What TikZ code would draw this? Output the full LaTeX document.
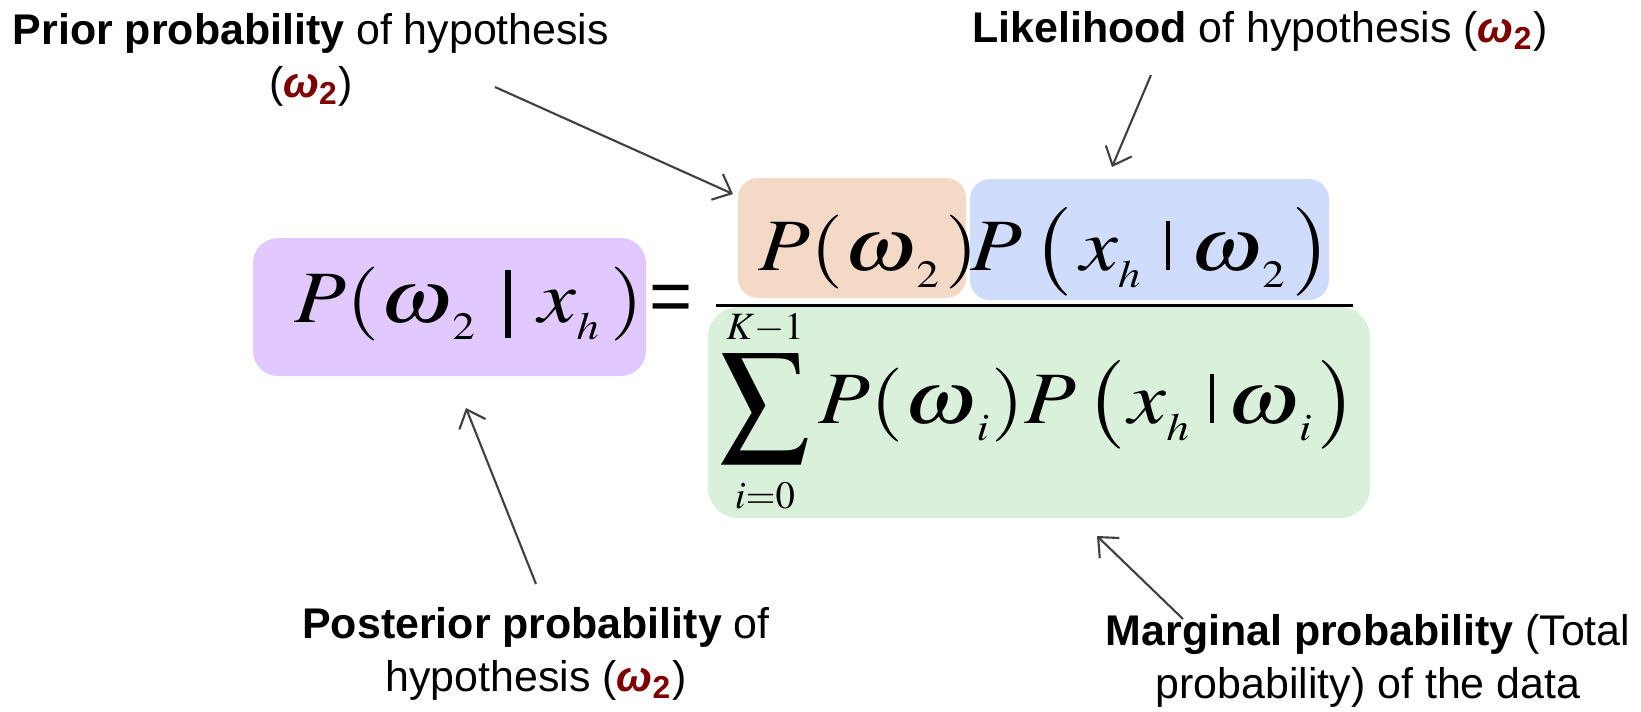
\documentclass[tikz,border=0pt]{standalone}
\usepackage{mathptmx}
\usepackage{graphicx}
\usepackage[no-math]{fontspec}
\newfontfamily\labfont{Liberation Sans}
\usetikzlibrary{arrows.meta,fit}
\DeclareMathSizes{21}{21}{11}{9}
\definecolor{cpurple}{RGB}{225,200,254}
\definecolor{cpeach}{RGB}{245,217,199}
\definecolor{cblue}{RGB}{207,220,251}
\definecolor{cgreen}{RGB}{217,240,219}
\definecolor{dred}{RGB}{128,0,0}
\definecolor{arrgray}{RGB}{64,64,64}
\newcommand\omtwo{\textcolor{dred}{\textbf{\textit{ω}}\textsubscript{\textbf{2}}}}
\newcommand\om{\mathord{\scalebox{1.12}[1]{$\omega$}}}
\newcommand\lsub[1]{_{\raisebox{-1.9pt}{$\scriptstyle #1$}}}
\newcommand\bigbar{\mkern1mu\rule[-4.6pt]{1.3pt}{19.4pt}\mkern1mu}
\newcommand\smbar{\mkern1mu\rule{1.1pt}{14pt}\mkern1mu}
\newcommand\hstretch[1]{\scalebox{1.15}[1]{#1}}
\begin{document}
\begin{tikzpicture}[x=0.01cm,y=-0.01cm,
  box/.style={draw=none, inner sep=0pt, rounded corners=#1},
  box/.default=0.2cm,
  mth/.style={inner sep=0pt, anchor=base west, font=\fontsize{21}{25}\selectfont},
  lab/.style={inner sep=0pt, align=center, font=\labfont\fontsize{12.2}{15}\selectfont},
  arr/.style={draw=arrgray, line width=0.6pt, -{Straight Barb[length=4.5pt,width=8pt]}}]
\useasboundingbox (0,0) rectangle (1641,711);

% coloured boxes
\node[box=0.25cm, fill=cpurple, fit={(253,238) (646,376)}] (bpost) {};
\node[box, fill=cpeach, fit={(738,178) (966,298)}] (bprior) {};
\node[box, fill=cblue, fit={(970,179) (1329,300)}] (blik) {};
\node[box=0.3cm, fill=cgreen, fit={(708,307) (1370,518)}] (bmarg) {};

% formula
\node[mth] (mpost) at (294,322) {\hstretch{$P(\om\lsub{2}\mkern5mu\bigbar\mkern5mu x\lsub{h}\mkern2mu)$}};
\node[inner sep=0pt, font=\labfont\fontsize{21}{25}\selectfont] (eq) at (671,303.5) {=};
\node[mth] (mprior) at (758,270) {\hstretch{$P(\om\lsub{2}\mkern1mu)$}};
\node[mth] (mlik) at (970,270) {\hstretch{$P\mkern2mu\bigl(\mkern2mu x\lsub{h}\mkern4mu\smbar\mkern3mu\om\lsub{2}\mkern1.5mu\bigr)$}};
\draw[line width=0.85pt] (716,305) -- (1353,305);
\node[inner sep=0pt, font=\fontsize{21}{25}\selectfont] (msum) at (765,411)
  {$\displaystyle\mathop{\vcenter{\hbox{\scalebox{1.2}{$\displaystyle\sum$}}}}\limits_{i=0}^{K-1}$};
\node[mth] (mden) at (818,423) {\hstretch{$P(\om\lsub{i})P\mkern2mu\bigl(\mkern1mu x\lsub{h}\mkern3mu\smbar\mkern1.5mu\om\lsub{i}\mkern1mu\bigr)$}};

% labels
\node[lab] (lprior) at (311,60) {\textbf{Prior probability} of hypothesis\\(\omtwo)};
\node[lab, anchor=base] (llik) at (1260,42) {\textbf{Likelihood} of hypothesis (\omtwo)};
\node[lab] (lpost) at (536,654) {\textbf{Posterior probability} of\\hypothesis (\omtwo)};
\node[lab] (lmarg) at (1368,661) {\textbf{Marginal probability} (Total\\probability) of the data};

% arrows
\coordinate (tprior) at (495,87);   \coordinate (hprior) at (733,194);
\coordinate (tlik) at (1151,75);    \coordinate (hlik) at (1112,167);
\coordinate (tpost) at (536,584);   \coordinate (hpost) at (466,408);
\coordinate (tmarg) at (1183,619);  \coordinate (hmarg) at (1097,536);
\draw[arr] (tprior) -- (hprior);
\draw[arr] (tlik) -- (hlik);
\draw[arr] (tpost) -- (hpost);
\draw[arr] (tmarg) -- (hmarg);
\end{tikzpicture}
\end{document}
